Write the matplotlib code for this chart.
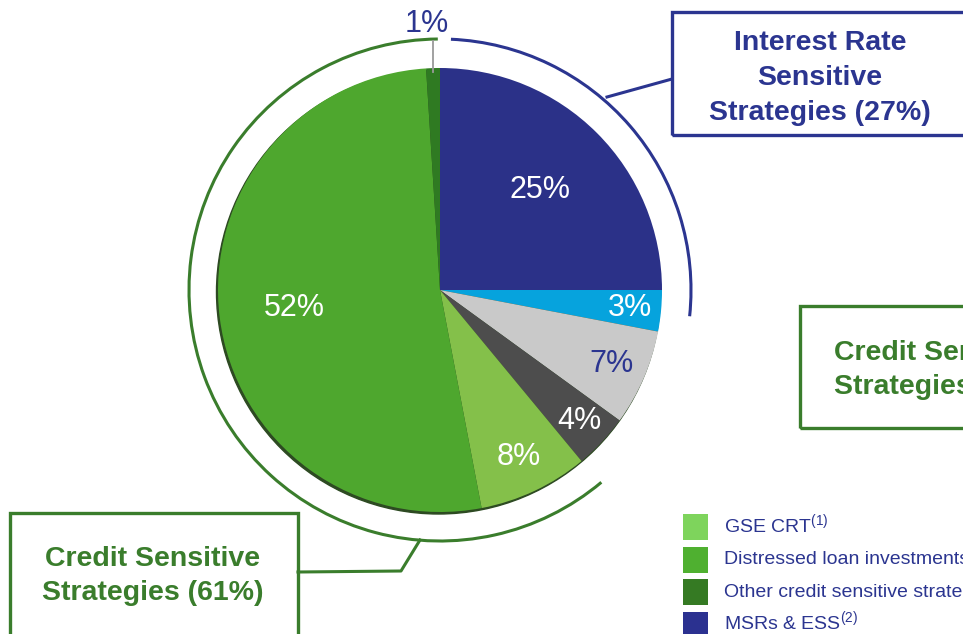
import matplotlib.pyplot as plt
import numpy as np
from matplotlib.patches import Arc, Rectangle, Circle

plt.rcParams['font.family'] = ['Liberation Sans', 'DejaVu Sans']
plt.rcParams['mathtext.fontset'] = 'custom'
plt.rcParams['mathtext.rm'] = 'Liberation Sans'
plt.rcParams['mathtext.it'] = 'Liberation Sans'

# data
shares = [25, 3, 7, 4, 8, 52, 1]
labels = ['25%', '3%', '7%', '4%', '8%', '52%', '1%']
colors = ['#2b3188', '#06a3dd', '#c9c9c9', '#4d4d4d', '#84c04a', '#4ea72e', '#2f7a22']
label_colors = ['white', 'white', '#2b3590', 'white', 'white', 'white', '#2b3590']
label_r = [0.64, 0.86, 0.84, 0.86, 0.83, 0.66, 1.2]

legend_names = ['GSE CRT$^{\\rm (1)}$', 'Distressed loan investments',
                'Other credit sensitive strategies', 'MSRs & ESS$^{\\rm (2)}$']
legend_colors = ['#7ed45c', '#4fb030', '#357a23', '#2b3190']

navy = '#2b3590'
green = '#3a7d2c'

W, H = 963, 634
fig = plt.figure(figsize=(W / 100, H / 100), dpi=100)
ax = fig.add_axes([0, 0, 1, 1])

def Y(y):
    return H - y

cx, cy, R = 440, Y(290), 222

# soft shadow under the pie
ax.add_patch(Circle((cx - 1.5, cy - 2), R, color='#2d4a22', zorder=1))

wedges, _ = ax.pie(shares, colors=colors, startangle=90, counterclock=False,
                   center=(cx, cy), radius=R, wedgeprops=dict(linewidth=0),
                   frame=True)
for w in wedges:
    w.set_zorder(2)

for w, lab, c, r in zip(wedges, labels, label_colors, label_r):
    a = np.deg2rad((w.theta1 + w.theta2) / 2)
    ax.text(cx + r * R * np.cos(a) - (5 if lab == '1%' else 0), cy + r * R * np.sin(a), lab,
            color=c, fontsize=22, ha='center', va='center', zorder=5)

# leader for the 1% slice
a1 = np.deg2rad((wedges[-1].theta1 + wedges[-1].theta2) / 2)
ax.plot([cx + (R - 4) * np.cos(a1)] * 2, [cy + (R - 4) * np.sin(a1), cy + 1.12 * R * np.sin(a1)],
        color='#9a9a9a', lw=1.3, zorder=4)

# outer group arcs
RA = 2 * 251
ax.add_patch(Arc((cx, cy), RA, RA, theta1=-6, theta2=87.5, color=navy, lw=2.2, zorder=3))
ax.add_patch(Arc((cx, cy), RA, RA, theta1=90.5, theta2=310, color=green, lw=2.2, zorder=3))

# connectors
ax.plot([607, 672], [Y(97), Y(79)], color=navy, lw=2.2)
ax.plot([420, 401, 298], [Y(540), Y(571), Y(572)], color=green, lw=2.2)

# boxes
ax.add_patch(Rectangle((672, Y(135)), 320, 123, fill=False, ec=navy, lw=2.4))
ax.text(820, Y(78), 'Interest Rate\nSensitive\nStrategies (27%)', color=navy,
        fontsize=20.5, fontweight='bold', ha='center', va='center', linespacing=1.45)

ax.add_patch(Rectangle((10, Y(650)), 288, 137, fill=False, ec=green, lw=2.4))
ax.text(153, Y(576), 'Credit Sensitive\nStrategies (61%)', color=green,
        fontsize=20.5, fontweight='bold', ha='center', va='center', linespacing=1.45)

ax.add_patch(Rectangle((800, Y(428)), 300, 122, fill=False, ec=green, lw=2.4))
ax.text(834, Y(370), 'Credit Sensitive\nStrategies (12%)', color=green,
        fontsize=20.5, fontweight='bold', ha='left', va='center', linespacing=1.45)

# legend
for i, (name, c) in enumerate(zip(legend_names, legend_colors)):
    yc = 527 + i * 32.5
    ax.add_patch(Rectangle((683, Y(yc + 13)), 25, 26, color=c, lw=0))
    ax.text(724, Y(yc + 5), name, color=navy, fontsize=14, ha='left', va='baseline')

ax.set_xlim(0, W)
ax.set_ylim(0, H)
ax.set_aspect('equal')
ax.axis('off')

fig.savefig('out.png', dpi=100)
